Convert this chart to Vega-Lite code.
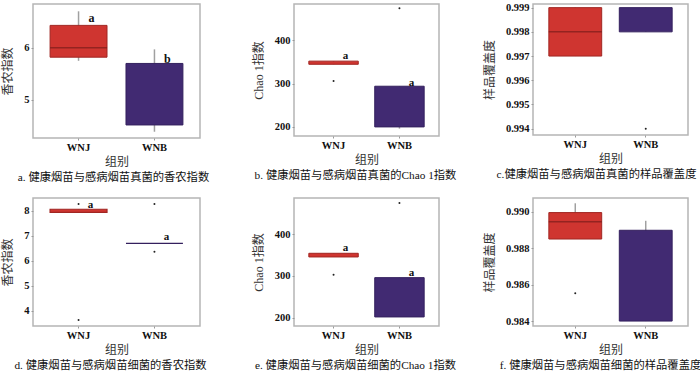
{
  "$schema": "https://vega.github.io/schema/vega-lite/v6.json",
  "padding": {"left": 1, "top": 1, "right": 0, "bottom": 0},
  "background": "white",
  "datasets": {
    "boxes": [
      {"panel": "a", "group": "WNJ", "lower": 5.75, "q1": 5.82, "median": 6.0, "q3": 6.43, "upper": 6.70},
      {"panel": "a", "group": "WNB", "lower": 4.39, "q1": 4.52, "median": 5.70, "q3": 5.70, "upper": 5.97},
      {"panel": "b", "group": "WNJ", "lower": 344.7, "q1": 344.7, "median": 348, "q3": 352, "upper": 352},
      {"panel": "b", "group": "WNB", "lower": 196, "q1": 200, "median": 200, "q3": 294, "upper": 294},
      {"panel": "c", "group": "WNJ", "lower": 0.997, "q1": 0.997, "median": 0.998, "q3": 0.999, "upper": 0.999},
      {"panel": "c", "group": "WNB", "lower": 0.998, "q1": 0.998, "median": 0.998, "q3": 0.999, "upper": 0.999},
      {"panel": "d", "group": "WNJ", "lower": 7.94, "q1": 7.94, "median": 8.0, "q3": 8.06, "upper": 8.06},
      {"panel": "d", "group": "WNB", "lower": 6.7, "q1": 6.7, "median": 6.7, "q3": 6.7, "upper": 6.7},
      {"panel": "e", "group": "WNJ", "lower": 345.6, "q1": 345.6, "median": 350, "q3": 354.4, "upper": 354.4},
      {"panel": "e", "group": "WNB", "lower": 201.7, "q1": 201.7, "median": 201.7, "q3": 296, "upper": 296},
      {"panel": "f", "group": "WNJ", "lower": 0.9885, "q1": 0.9885, "median": 0.98945, "q3": 0.98995, "upper": 0.99046},
      {"panel": "f", "group": "WNB", "lower": 0.984, "q1": 0.984, "median": 0.984, "q3": 0.98898, "upper": 0.9895}
    ],
    "outliers": [
      {"panel": "b", "group": "WNJ", "value": 306},
      {"panel": "b", "group": "WNB", "value": 474},
      {"panel": "c", "group": "WNB", "value": 0.994},
      {"panel": "d", "group": "WNJ", "value": 8.27},
      {"panel": "d", "group": "WNJ", "value": 3.64},
      {"panel": "d", "group": "WNB", "value": 8.27},
      {"panel": "d", "group": "WNB", "value": 6.36},
      {"panel": "e", "group": "WNJ", "value": 303},
      {"panel": "e", "group": "WNB", "value": 475},
      {"panel": "f", "group": "WNJ", "value": 0.98552}
    ],
    "letters": [
      {"panel": "a", "group": "WNJ", "value": 6.58, "label": "a"},
      {"panel": "a", "group": "WNB", "value": 5.79, "label": "b"},
      {"panel": "b", "group": "WNJ", "value": 365, "label": "a"},
      {"panel": "b", "group": "WNB", "value": 302, "label": "a"},
      {"panel": "d", "group": "WNJ", "value": 8.23, "label": "a"},
      {"panel": "d", "group": "WNB", "value": 6.96, "label": "a"},
      {"panel": "e", "group": "WNJ", "value": 366, "label": "a"},
      {"panel": "e", "group": "WNB", "value": 307, "label": "a"}
    ]
  },
  "config": {
    "view": {"stroke": "#b5b5b5", "strokeWidth": 1.5},
    "axis": {
      "labelFont": "'Liberation Serif', 'Noto Sans CJK SC', serif",
      "labelFontWeight": "bold",
      "labelFontSize": 10.5,
      "labelColor": "#111",
      "titleFont": "'Liberation Serif', 'Noto Sans CJK SC', serif",
      "titleFontWeight": "normal",
      "titleFontSize": 12,
      "titleColor": "#333",
      "domain": false,
      "grid": false,
      "tickColor": "#999",
      "tickSize": 2,
      "labelPadding": 2
    },
    "axisY": {"titlePadding": 9},
    "axisX": {"labelAngle": 0, "titlePadding": 4},
    "title": {
      "font": "'Liberation Serif', 'Noto Sans CJK SC', serif",
      "fontSize": 11.3,
      "fontWeight": "normal",
      "color": "#111",
      "anchor": "middle",
      "offset": 4
    },
    "tick": {"thickness": 1.5}
  },
  "concat": [
    {
      "width": 167, "height": 134,
      "title": {"text": "a. 健康烟苗与感病烟苗真菌的香农指数", "orient": "bottom", "dx": -3},
      "encoding": {
        "x": {"field": "group", "type": "nominal", "sort": ["WNJ", "WNB"], "scale": {"paddingInner": 0, "paddingOuter": 0.1}, "title": "组别"}
      },
      "layer": [
        {"data": {"name": "boxes"}, "transform": [{"filter": "datum.panel === 'a'"}], "mark": {"type": "rule", "color": "#a0a0a0", "strokeWidth": 1.5},
         "encoding": {"y": {"field": "lower", "type": "quantitative", "scale": {"domain": [4.27, 6.84], "nice": false, "zero": false}, "axis": {"values": [5, 6], "format": "d", "title": "香农指数"}}, "y2": {"field": "upper"}}},
        {"data": {"name": "boxes"}, "transform": [{"filter": "datum.panel === 'a'"}], "mark": {"type": "bar", "width": {"band": 0.75}, "strokeWidth": 1},
         "encoding": {"y": {"field": "q1", "type": "quantitative", "axis": {"values": [5, 6], "format": "d", "title": "香农指数"}}, "y2": {"field": "q3"},
           "fill": {"field": "group", "type": "nominal", "scale": {"domain": ["WNJ", "WNB"], "range": ["#cf3530", "#412a72"]}, "legend": null},
           "stroke": {"field": "group", "type": "nominal", "scale": {"domain": ["WNJ", "WNB"], "range": ["#a12622", "#34205e"]}, "legend": null}}},
        {"data": {"name": "boxes"}, "transform": [{"filter": "datum.panel === 'a' && datum.group === 'WNJ'"}], "mark": {"type": "tick", "size": 57, "color": "#7a1d1a"},
         "encoding": {"y": {"field": "median", "type": "quantitative", "axis": {"values": [5, 6], "format": "d", "title": "香农指数"}}}},
        {"data": {"name": "letters"}, "transform": [{"filter": "datum.panel === 'a'"}], "mark": {"type": "text", "font": "Liberation Serif", "fontWeight": "bold", "fontSize": 12, "dx": 13, "color": "#111"},
         "encoding": {"y": {"field": "value", "type": "quantitative", "axis": {"values": [5, 6], "format": "d", "title": "香农指数"}}, "text": {"field": "label"}}}
      ]
    },
    {
      "width": 145, "height": 132,
      "title": {"text": "b. 健康烟苗与感病烟苗真菌的Chao 1指数", "orient": "bottom", "dx": -11},
      "encoding": {
        "x": {"field": "group", "type": "nominal", "sort": ["WNJ", "WNB"], "scale": {"paddingInner": 0, "paddingOuter": 0.1}, "title": "组别"}
      },
      "layer": [
        {"data": {"name": "boxes"}, "transform": [{"filter": "datum.panel === 'b'"}], "mark": {"type": "rule", "color": "#a0a0a0", "strokeWidth": 1.5},
         "encoding": {"y": {"field": "lower", "type": "quantitative", "scale": {"domain": [179, 484], "nice": false, "zero": false}, "axis": {"values": [200, 300, 400], "title": "Chao 1指数"}}, "y2": {"field": "upper"}}},
        {"data": {"name": "boxes"}, "transform": [{"filter": "datum.panel === 'b'"}], "mark": {"type": "bar", "width": {"band": 0.75}, "strokeWidth": 1},
         "encoding": {"y": {"field": "q1", "type": "quantitative", "axis": {"values": [200, 300, 400], "title": "Chao 1指数"}}, "y2": {"field": "q3"},
           "fill": {"field": "group", "type": "nominal", "scale": {"domain": ["WNJ", "WNB"], "range": ["#cf3530", "#412a72"]}, "legend": null},
           "stroke": {"field": "group", "type": "nominal", "scale": {"domain": ["WNJ", "WNB"], "range": ["#a12622", "#34205e"]}, "legend": null}}},
        {"data": {"name": "outliers"}, "transform": [{"filter": "datum.panel === 'b'"}], "mark": {"type": "point", "filled": true, "size": 4, "color": "#222", "opacity": 1},
         "encoding": {"y": {"field": "value", "type": "quantitative", "axis": {"values": [200, 300, 400], "title": "Chao 1指数"}}}},
        {"data": {"name": "letters"}, "transform": [{"filter": "datum.panel === 'b'"}], "mark": {"type": "text", "font": "Liberation Serif", "fontWeight": "bold", "fontSize": 11, "dx": 12, "color": "#111"},
         "encoding": {"y": {"field": "value", "type": "quantitative", "axis": {"values": [200, 300, 400], "title": "Chao 1指数"}}, "text": {"field": "label"}}}
      ]
    },
    {
      "width": 155, "height": 131,
      "title": {"text": "c.健康烟苗与感病烟苗真菌的样品覆盖度", "orient": "bottom", "dx": -14},
      "encoding": {
        "x": {"field": "group", "type": "nominal", "sort": ["WNJ", "WNB"], "scale": {"paddingInner": 0, "paddingOuter": 0.1}, "title": "组别"}
      },
      "layer": [
        {"data": {"name": "boxes"}, "transform": [{"filter": "datum.panel === 'c'"}], "mark": {"type": "rule", "color": "#a0a0a0", "strokeWidth": 1.5},
         "encoding": {"y": {"field": "lower", "type": "quantitative", "scale": {"domain": [0.99374, 0.99915], "nice": false, "zero": false}, "axis": {"values": [0.994, 0.995, 0.996, 0.997, 0.998, 0.999], "format": ".3f", "title": "样品覆盖度"}}, "y2": {"field": "upper"}}},
        {"data": {"name": "boxes"}, "transform": [{"filter": "datum.panel === 'c'"}], "mark": {"type": "bar", "width": {"band": 0.75}, "strokeWidth": 1},
         "encoding": {"y": {"field": "q1", "type": "quantitative", "axis": {"values": [0.994, 0.995, 0.996, 0.997, 0.998, 0.999], "format": ".3f", "title": "样品覆盖度"}}, "y2": {"field": "q3"},
           "fill": {"field": "group", "type": "nominal", "scale": {"domain": ["WNJ", "WNB"], "range": ["#cf3530", "#412a72"]}, "legend": null},
           "stroke": {"field": "group", "type": "nominal", "scale": {"domain": ["WNJ", "WNB"], "range": ["#a12622", "#34205e"]}, "legend": null}}},
        {"data": {"name": "boxes"}, "transform": [{"filter": "datum.panel === 'c' && datum.group === 'WNJ'"}], "mark": {"type": "tick", "size": 53, "color": "#7a1d1a"},
         "encoding": {"y": {"field": "median", "type": "quantitative", "axis": {"values": [0.994, 0.995, 0.996, 0.997, 0.998, 0.999], "format": ".3f", "title": "样品覆盖度"}}}},
        {"data": {"name": "outliers"}, "transform": [{"filter": "datum.panel === 'c'"}], "mark": {"type": "point", "filled": true, "size": 4, "color": "#222", "opacity": 1},
         "encoding": {"y": {"field": "value", "type": "quantitative", "axis": {"values": [0.994, 0.995, 0.996, 0.997, 0.998, 0.999], "format": ".3f", "title": "样品覆盖度"}}}}
      ]
    },
    {
      "width": 167, "height": 128,
      "title": {"text": "d. 健康烟苗与感病烟苗细菌的香农指数", "orient": "bottom", "dx": -6},
      "encoding": {
        "x": {"field": "group", "type": "nominal", "sort": ["WNJ", "WNB"], "scale": {"paddingInner": 0, "paddingOuter": 0.1}, "title": "组别"}
      },
      "layer": [
        {"data": {"name": "boxes"}, "transform": [{"filter": "datum.panel === 'd'"}], "mark": {"type": "rule", "color": "#a0a0a0", "strokeWidth": 1.5},
         "encoding": {"y": {"field": "lower", "type": "quantitative", "scale": {"domain": [3.4, 8.51], "nice": false, "zero": false}, "axis": {"values": [4, 5, 6, 7, 8], "format": "d", "title": "香农指数"}}, "y2": {"field": "upper"}}},
        {"data": {"name": "boxes"}, "transform": [{"filter": "datum.panel === 'd'"}], "mark": {"type": "bar", "width": {"band": 0.75}, "strokeWidth": 1.2},
         "encoding": {"y": {"field": "q1", "type": "quantitative", "axis": {"values": [4, 5, 6, 7, 8], "format": "d", "title": "香农指数"}}, "y2": {"field": "q3"},
           "fill": {"field": "group", "type": "nominal", "scale": {"domain": ["WNJ", "WNB"], "range": ["#cf3530", "#412a72"]}, "legend": null},
           "stroke": {"field": "group", "type": "nominal", "scale": {"domain": ["WNJ", "WNB"], "range": ["#a12622", "#34205e"]}, "legend": null}}},
        {"data": {"name": "outliers"}, "transform": [{"filter": "datum.panel === 'd'"}], "mark": {"type": "point", "filled": true, "size": 4, "color": "#222", "opacity": 1},
         "encoding": {"y": {"field": "value", "type": "quantitative", "axis": {"values": [4, 5, 6, 7, 8], "format": "d", "title": "香农指数"}}}},
        {"data": {"name": "letters"}, "transform": [{"filter": "datum.panel === 'd'"}], "mark": {"type": "text", "font": "Liberation Serif", "fontWeight": "bold", "fontSize": 11, "dx": 12, "color": "#111"},
         "encoding": {"y": {"field": "value", "type": "quantitative", "axis": {"values": [4, 5, 6, 7, 8], "format": "d", "title": "香农指数"}}, "text": {"field": "label"}}}
      ]
    },
    {
      "width": 145, "height": 128,
      "title": {"text": "e. 健康烟苗与感病烟苗细菌的Chao 1指数", "orient": "bottom", "dx": -11},
      "encoding": {
        "x": {"field": "group", "type": "nominal", "sort": ["WNJ", "WNB"], "scale": {"paddingInner": 0, "paddingOuter": 0.1}, "title": "组别"}
      },
      "layer": [
        {"data": {"name": "boxes"}, "transform": [{"filter": "datum.panel === 'e'"}], "mark": {"type": "rule", "color": "#a0a0a0", "strokeWidth": 1.5},
         "encoding": {"y": {"field": "lower", "type": "quantitative", "scale": {"domain": [180, 487], "nice": false, "zero": false}, "axis": {"values": [200, 300, 400], "title": "Chao 1指数"}}, "y2": {"field": "upper"}}},
        {"data": {"name": "boxes"}, "transform": [{"filter": "datum.panel === 'e'"}], "mark": {"type": "bar", "width": {"band": 0.75}, "strokeWidth": 1},
         "encoding": {"y": {"field": "q1", "type": "quantitative", "axis": {"values": [200, 300, 400], "title": "Chao 1指数"}}, "y2": {"field": "q3"},
           "fill": {"field": "group", "type": "nominal", "scale": {"domain": ["WNJ", "WNB"], "range": ["#cf3530", "#412a72"]}, "legend": null},
           "stroke": {"field": "group", "type": "nominal", "scale": {"domain": ["WNJ", "WNB"], "range": ["#a12622", "#34205e"]}, "legend": null}}},
        {"data": {"name": "outliers"}, "transform": [{"filter": "datum.panel === 'e'"}], "mark": {"type": "point", "filled": true, "size": 4, "color": "#222", "opacity": 1},
         "encoding": {"y": {"field": "value", "type": "quantitative", "axis": {"values": [200, 300, 400], "title": "Chao 1指数"}}}},
        {"data": {"name": "letters"}, "transform": [{"filter": "datum.panel === 'e'"}], "mark": {"type": "text", "font": "Liberation Serif", "fontWeight": "bold", "fontSize": 11, "dx": 12, "color": "#111"},
         "encoding": {"y": {"field": "value", "type": "quantitative", "axis": {"values": [200, 300, 400], "title": "Chao 1指数"}}, "text": {"field": "label"}}}
      ]
    },
    {
      "width": 155, "height": 128,
      "title": {"text": "f. 健康烟苗与感病烟苗细菌的样品覆盖度", "orient": "bottom", "dx": -10},
      "encoding": {
        "x": {"field": "group", "type": "nominal", "sort": ["WNJ", "WNB"], "scale": {"paddingInner": 0, "paddingOuter": 0.1}, "title": "组别"}
      },
      "layer": [
        {"data": {"name": "boxes"}, "transform": [{"filter": "datum.panel === 'f'"}], "mark": {"type": "rule", "color": "#a0a0a0", "strokeWidth": 1.5},
         "encoding": {"y": {"field": "lower", "type": "quantitative", "scale": {"domain": [0.98373, 0.99075], "nice": false, "zero": false}, "axis": {"values": [0.984, 0.986, 0.988, 0.99], "format": ".3f", "title": "样品覆盖度"}}, "y2": {"field": "upper"}}},
        {"data": {"name": "boxes"}, "transform": [{"filter": "datum.panel === 'f'"}], "mark": {"type": "bar", "width": {"band": 0.75}, "strokeWidth": 1},
         "encoding": {"y": {"field": "q1", "type": "quantitative", "axis": {"values": [0.984, 0.986, 0.988, 0.99], "format": ".3f", "title": "样品覆盖度"}}, "y2": {"field": "q3"},
           "fill": {"field": "group", "type": "nominal", "scale": {"domain": ["WNJ", "WNB"], "range": ["#cf3530", "#412a72"]}, "legend": null},
           "stroke": {"field": "group", "type": "nominal", "scale": {"domain": ["WNJ", "WNB"], "range": ["#a12622", "#34205e"]}, "legend": null}}},
        {"data": {"name": "boxes"}, "transform": [{"filter": "datum.panel === 'f' && datum.group === 'WNJ'"}], "mark": {"type": "tick", "size": 53, "color": "#7a1d1a"},
         "encoding": {"y": {"field": "median", "type": "quantitative", "axis": {"values": [0.984, 0.986, 0.988, 0.99], "format": ".3f", "title": "样品覆盖度"}}}},
        {"data": {"name": "outliers"}, "transform": [{"filter": "datum.panel === 'f'"}], "mark": {"type": "point", "filled": true, "size": 4, "color": "#222", "opacity": 1},
         "encoding": {"y": {"field": "value", "type": "quantitative", "axis": {"values": [0.984, 0.986, 0.988, 0.99], "format": ".3f", "title": "样品覆盖度"}}}}
      ]
    }
  ],
  "columns": 3,
  "align": "each",
  "bounds": "flush",
  "spacing": {"column": 94, "row": 60}
}
